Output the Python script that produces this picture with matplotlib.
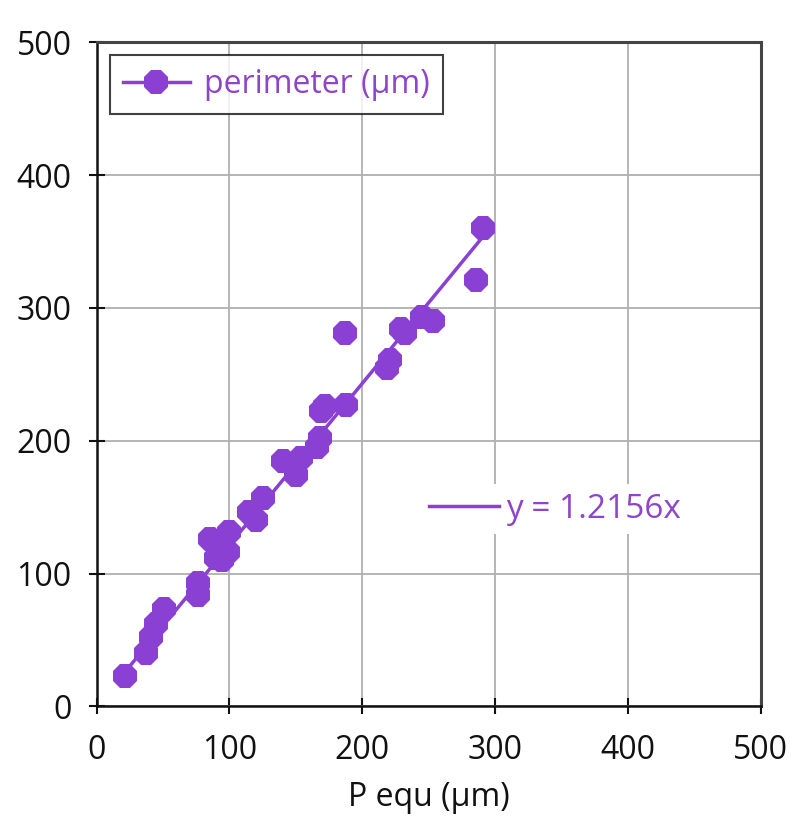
import matplotlib
matplotlib.use("Agg")
import matplotlib.pyplot as plt
import numpy as np
from matplotlib.lines import Line2D

plt.rcParams['font.family'] = ['Open Sans', 'DejaVu Sans']

p_equ = [21, 37, 41, 45, 51, 76, 76, 85, 90, 94, 99, 100, 115, 120, 125,
         140, 150, 154, 166, 168, 169, 172, 187, 188, 219, 221, 229, 232,
         245, 253, 286, 291]
perimeter = [23, 40, 52, 62, 73, 84, 93, 126, 112, 110, 116, 131, 146, 140, 157,
             185, 174, 187, 195, 202, 222, 226, 281, 227, 255, 261, 284, 281,
             293, 290, 321, 360]
slope = 1.2156
series_label = "perimeter (µm)"
trend_label = "y = 1.2156x"
xlabel = "P equ (µm)"
ticks = [0, 100, 200, 300, 400, 500]

purple = '#8A40D2'
text_purple = '#8E45C9'
fs = 23

fig = plt.figure(figsize=(7.96, 8.19), dpi=100)
ax = fig.add_axes([0.1215, 0.1375, 0.834, 0.811])

ax.grid(True, color='#b0b0b0', linewidth=1.3, zorder=0)
ax.set_axisbelow(True)

xs = np.array([min(p_equ), max(p_equ)])
ax.plot(xs, slope * xs, color=purple, linewidth=2.5, zorder=2)
ax.plot(p_equ, perimeter, linestyle='none', marker='8', markersize=19,
        color=purple, markeredgewidth=0, zorder=3)

ax.set_xlim(0, 500)
ax.set_ylim(0, 500)
ax.set_xticks(ticks)
ax.set_yticks(ticks)
ax.tick_params(axis='both', direction='inout', length=12, width=1.5,
               labelsize=fs, colors='#111111')
ax.tick_params(axis='x', pad=14)
ax.tick_params(axis='y', pad=12)
for lab in ax.get_xticklabels() + ax.get_yticklabels():
    lab.set_fontweight('medium')
for s in ['left', 'bottom']:
    ax.spines[s].set_color('#111111')
    ax.spines[s].set_linewidth(1.8)
for s in ['top', 'right']:
    ax.spines[s].set_color('#444444')
    ax.spines[s].set_linewidth(2.2)

ax.set_xlabel(xlabel, fontsize=fs, color='#111111', labelpad=10,
              fontweight='medium')

h1 = Line2D([], [], color=purple, linewidth=2.5, marker='8', markersize=19,
            markeredgewidth=0)
leg1 = ax.legend([h1], [series_label], loc='upper left',
                 bbox_to_anchor=(0.02, 0.98), frameon=True, fancybox=False,
                 edgecolor='#111111', prop={'size': fs, 'weight': 'medium'},
                 handlelength=2.1, borderpad=0.4, handletextpad=0.45,
                 labelcolor=text_purple, borderaxespad=0)
leg1.get_frame().set_linewidth(1.5)
ax.add_artist(leg1)

h2 = Line2D([], [], color=purple, linewidth=2.5)
leg2 = ax.legend([h2], [trend_label], loc='center left',
                 bbox_to_anchor=(0.488, 0.297), frameon=True, fancybox=False,
                 edgecolor='none', facecolor='white', framealpha=1,
                 prop={'size': 24, 'weight': 'medium'}, handlelength=2.1,
                 borderpad=0.25, handletextpad=0.2, labelcolor=text_purple,
                 borderaxespad=0)

fig.savefig('out.png', dpi=100, facecolor='white')
